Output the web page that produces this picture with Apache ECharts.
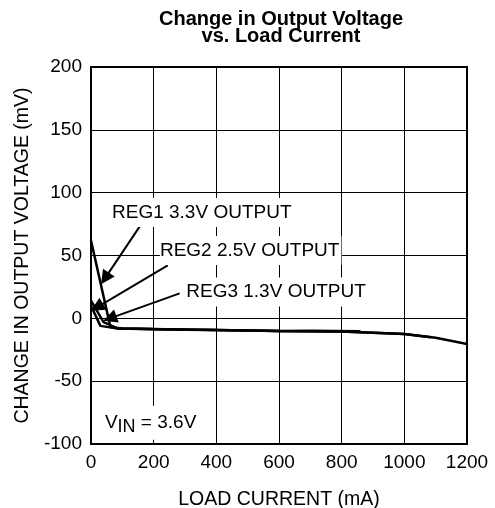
<!DOCTYPE html>
<html>
<head>
<meta charset="utf-8">
<script src="https://cdn.jsdelivr.net/npm/echarts@6/dist/echarts.min.js"></script>
<style>
  html, body { margin: 0; padding: 0; background: #fff; }
  #chart { width: 495px; height: 508px; }
</style>
</head>
<body>
<div id="chart"></div>
<script>
// load current (mA), change in output voltage (mV)
const reg1 = [[0, 62], [62, -7], [100, -8], [200, -8.5], [300, -9], [400, -9.3], [500, -9.6], [600, -10], [700, -9.8], [860, -10.2]]
const reg2 = [[0, 14], [40, -3], [85, -8], [200, -8.6], [400, -9.3], [600, -10], [800, -10.5], [1000, -12.5], [1085, -15]]
const reg3 = [[0, 10], [30, -6], [80, -8], [200, -8.5], [400, -9.3], [600, -10], [800, -10.5], [1000, -12.5], [1100, -15.5], [1200, -20.5]]

const labels = ['REG1 3.3V OUTPUT', 'REG2 2.5V OUTPUT', 'REG3 1.3V OUTPUT']
const labelAt = [[67, 84.3], [220, 54], [304, 21]]
const arrowFrom = [[162, 75.6], [245, 42.2], [283, 19.9]]
const arrowTo = [[44.6, 31.8], [19, 8.8], [60, 0]]

const font = 'Liberation Sans, Arial, sans-serif'

const chart = echarts.init(document.getElementById('chart'))

const lineSeries = (data) => ({
  type: 'line',
  data: data,
  symbol: 'none',
  lineStyle: { color: '#000', width: 2.5 },
  z: 3
})

const option = {
  animation: false,
  title: {
    text: 'Change in Output Voltage\nvs. Load Current',
    left: 276,
    top: 6,
    textAlign: 'center',
    textStyle: { fontFamily: font, fontSize: 20, fontWeight: 'bold', color: '#000', lineHeight: 17 }
  },
  grid: {
    left: 91, right: 28, top: 67, bottom: 64,
    outerBoundsMode: 'none',
    show: true, borderColor: '#000', borderWidth: 2
  },
  xAxis: {
    type: 'value',
    min: 0,
    max: 1200,
    interval: 200,
    name: 'LOAD CURRENT (mA)',
    nameLocation: 'middle',
    nameGap: 46,
    nameTextStyle: { fontFamily: font, fontSize: 19.5, color: '#000' },
    axisLine: { show: false },
    axisTick: { show: false },
    axisLabel: { fontFamily: font, fontSize: 19, color: '#000', margin: 9, formatter: (v) => String(v) },
    splitLine: { lineStyle: { color: '#000', width: 1 } }
  },
  yAxis: {
    type: 'value',
    min: -100,
    max: 200,
    interval: 50,
    name: 'CHANGE IN OUTPUT VOLTAGE (mV)',
    nameLocation: 'middle',
    nameGap: 57,
    nameTextStyle: { fontFamily: font, fontSize: 19.5, color: '#000' },
    axisLine: { show: false },
    axisTick: { show: false },
    axisLabel: { fontFamily: font, fontSize: 19, color: '#000', margin: 9 },
    splitLine: { lineStyle: { color: '#000', width: 1 } }
  },
  series: [
    lineSeries(reg1),
    lineSeries(reg2),
    lineSeries(reg3),
    {
      // annotations: labels with white boxes and arrows
      type: 'line',
      data: [],
      symbol: 'none',
      color: '#000',
      z: 4,
      markPoint: {
        symbol: 'rect',
        symbolSize: 0,
        data: labels.map((t, i) => ({
          coord: labelAt[i],
          label: {
            show: true,
            formatter: t,
            position: 'right',
            distance: 0,
            fontFamily: font,
            fontSize: 19,
            color: '#000',
            backgroundColor: '#fff',
            padding: [5, 2, 5, 0]
          }
        })).concat([{
          coord: [38, -83],
          label: {
            show: true,
            formatter: '{v|V}{s|IN}{v| = 3.6V}',
            position: 'right',
            distance: 0,
            backgroundColor: '#fff',
            padding: [4, 2, 4, 2],
            rich: {
              v: { fontFamily: font, fontSize: 19, color: '#000' },
              s: { fontFamily: font, fontSize: 18, color: '#000', padding: [8, 0, 0, 0] }
            }
          }
        }])
      },
      markLine: {
        silent: true,
        symbol: ['none', 'triangle'],
        symbolSize: 14,
        label: { show: false },
        itemStyle: { color: '#000' },
        lineStyle: { color: '#000', width: 2, type: 'solid' },
        data: arrowFrom.map((p, i) => [{ coord: p }, { coord: arrowTo[i] }])
      }
    }
  ]
}

chart.setOption(option)
</script>
</body>
</html>
